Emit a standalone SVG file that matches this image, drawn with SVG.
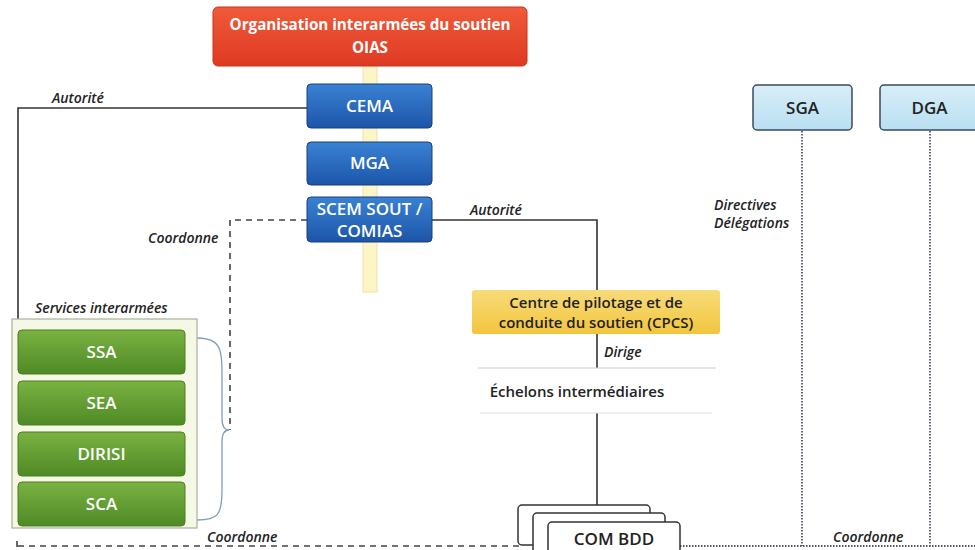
<svg xmlns="http://www.w3.org/2000/svg" width="975" height="550" viewBox="0 0 975 550">
<style>
text{font-family:"Open Sans","Liberation Sans",sans-serif}
.w{fill:#fff;font-size:17px;font-weight:600;text-anchor:middle}
.t{fill:#fff;font-size:15.2px;font-weight:700;text-anchor:middle}
.lbl{fill:#222;font-size:14px;font-weight:600;font-style:italic}
.dk{fill:#222;font-size:15px;font-weight:600;text-anchor:middle}
.big{fill:#222;font-size:17px;font-weight:600;text-anchor:middle}
.solid{stroke:#333;stroke-width:1.6;fill:none}
.dash{stroke:#444;stroke-width:1.6;fill:none;stroke-dasharray:6 5}
.dot{stroke:#556;stroke-width:1.8;fill:none;stroke-dasharray:1.5 1.5}
.blue{fill:url(#gBlue);stroke:#1a3f7a;stroke-width:1}
.green{fill:url(#gGreen);stroke:#4f7f22;stroke-width:1}
.lb{fill:url(#gLB);stroke:#3a4a5a;stroke-width:1.5}
.cb{fill:#fff;stroke:#333;stroke-width:1.5}
</style>
<defs>
<linearGradient id="gRed" x1="0" y1="0" x2="0" y2="1"><stop offset="0" stop-color="#f05a3a"/><stop offset="1" stop-color="#de3a22"/></linearGradient>
<linearGradient id="gBlue" x1="0" y1="0" x2="0" y2="1"><stop offset="0" stop-color="#3a82d4"/><stop offset="1" stop-color="#1c55a8"/></linearGradient>
<linearGradient id="gGreen" x1="0" y1="0" x2="0" y2="1"><stop offset="0" stop-color="#7ab242"/><stop offset="1" stop-color="#4e8a25"/></linearGradient>
<linearGradient id="gLB" x1="0" y1="0" x2="0" y2="1"><stop offset="0" stop-color="#d8eef8"/><stop offset="1" stop-color="#b9dff2"/></linearGradient>
<linearGradient id="gYel" x1="0" y1="0" x2="0" y2="1"><stop offset="0" stop-color="#f8dc7a"/><stop offset="1" stop-color="#f2c53e"/></linearGradient>
</defs>

<rect x="363" y="60" width="14" height="232" fill="#fbf5c8" stroke="#ece3a8" stroke-width="1"/>

<g id="connectors">
<path class="solid" d="M307 108 H18 V319"/>
<path class="dash" d="M307 220 H230 V430"/>
<path class="solid" d="M432 220 H597 V290"/>
<path class="solid" d="M597 334 V368"/>
<path class="solid" d="M597 413 V506"/>
<path class="dash" d="M17 541 V548 M18 546 H520"/>
<path class="dot" d="M680 546 H975"/>
<path class="dot" d="M802 131 V546"/>
<path class="dot" d="M930 131 V546"/>
<path d="M197 338 C222 338 222 350 222 380 V418 C222 426 225 430 229 430 C225 430 222 434 222 442 V490 C222 515 218 520 197 520" fill="none" stroke="#7f9fb8" stroke-width="1.3"/>
<line x1="478" y1="368" x2="716" y2="368" stroke="#ccc" stroke-width="1"/>
<line x1="480" y1="413" x2="712" y2="413" stroke="#ddd" stroke-width="1"/>
<text class="lbl" x="52" y="103">Autorité</text>
<text class="lbl" x="148" y="243">Coordonne</text>
<text class="lbl" x="470" y="215">Autorité</text>
<text class="lbl" x="604" y="357">Dirige</text>
<text class="lbl" x="714" y="210">Directives</text>
<text class="lbl" x="714" y="228">Délégations</text>
<text class="lbl" x="207" y="542">Coordonne</text>
<text class="lbl" x="833" y="542">Coordonne</text>
</g>

<g id="oias">
<rect x="213" y="7" width="314" height="59" rx="5" fill="url(#gRed)" stroke="#c8331e" stroke-width="1"/>
<text class="t" x="370" y="30">Organisation interarmées du soutien</text>
<text class="t" x="370" y="53">OIAS</text>
</g>
<g id="cema">
<rect class="blue" x="307" y="84" width="125" height="44" rx="4"/>
<text class="w" x="369.5" y="112">CEMA</text>
</g>
<g id="mga">
<rect class="blue" x="307" y="142" width="125" height="43" rx="4"/>
<text class="w" x="369.5" y="169">MGA</text>
</g>
<g id="scem">
<rect class="blue" x="307" y="197" width="125" height="45" rx="4"/>
<text class="w" x="369.5" y="215">SCEM SOUT /</text>
<text class="w" x="369.5" y="237">COMIAS</text>
</g>

<g id="services">
<text class="lbl" x="35" y="313">Services interarmées</text>
<rect x="12" y="319" width="185" height="209" fill="#f5f8e4" stroke="#a9b39a" stroke-width="1.2"/>
</g>
<g id="ssa"><rect class="green" x="18" y="330" width="167" height="44" rx="4"/><text class="w" x="101.5" y="358">SSA</text></g>
<g id="sea"><rect class="green" x="18" y="381" width="167" height="44" rx="4"/><text class="w" x="101.5" y="409">SEA</text></g>
<g id="dirisi"><rect class="green" x="18" y="432" width="167" height="44" rx="4"/><text class="w" x="101.5" y="460">DIRISI</text></g>
<g id="sca"><rect class="green" x="18" y="482" width="167" height="44" rx="4"/><text class="w" x="101.5" y="510">SCA</text></g>

<g id="cpcs">
<rect x="472" y="290" width="248" height="44" rx="3" fill="url(#gYel)"/>
<text class="dk" x="596" y="308">Centre de pilotage et de</text>
<text class="dk" x="596" y="328">conduite du soutien (CPCS)</text>
</g>
<g id="echelons">
<text class="dk" x="577" y="397">Échelons intermédiaires</text>
</g>

<g id="combdd">
<rect class="cb" x="518" y="505" width="132" height="40" rx="4"/>
<rect class="cb" x="533" y="513" width="132" height="40" rx="4"/>
<rect class="cb" x="548" y="522" width="132" height="40" rx="4"/>
<text class="big" x="614" y="545">COM BDD</text>
</g>

<g id="sga">
<rect class="lb" x="753" y="85" width="99" height="45" rx="4"/>
<text class="big" x="802.5" y="114">SGA</text>
</g>
<g id="dga">
<rect class="lb" x="880" y="85" width="99" height="45" rx="4"/>
<text class="big" x="929.5" y="114">DGA</text>
</g>
</svg>
